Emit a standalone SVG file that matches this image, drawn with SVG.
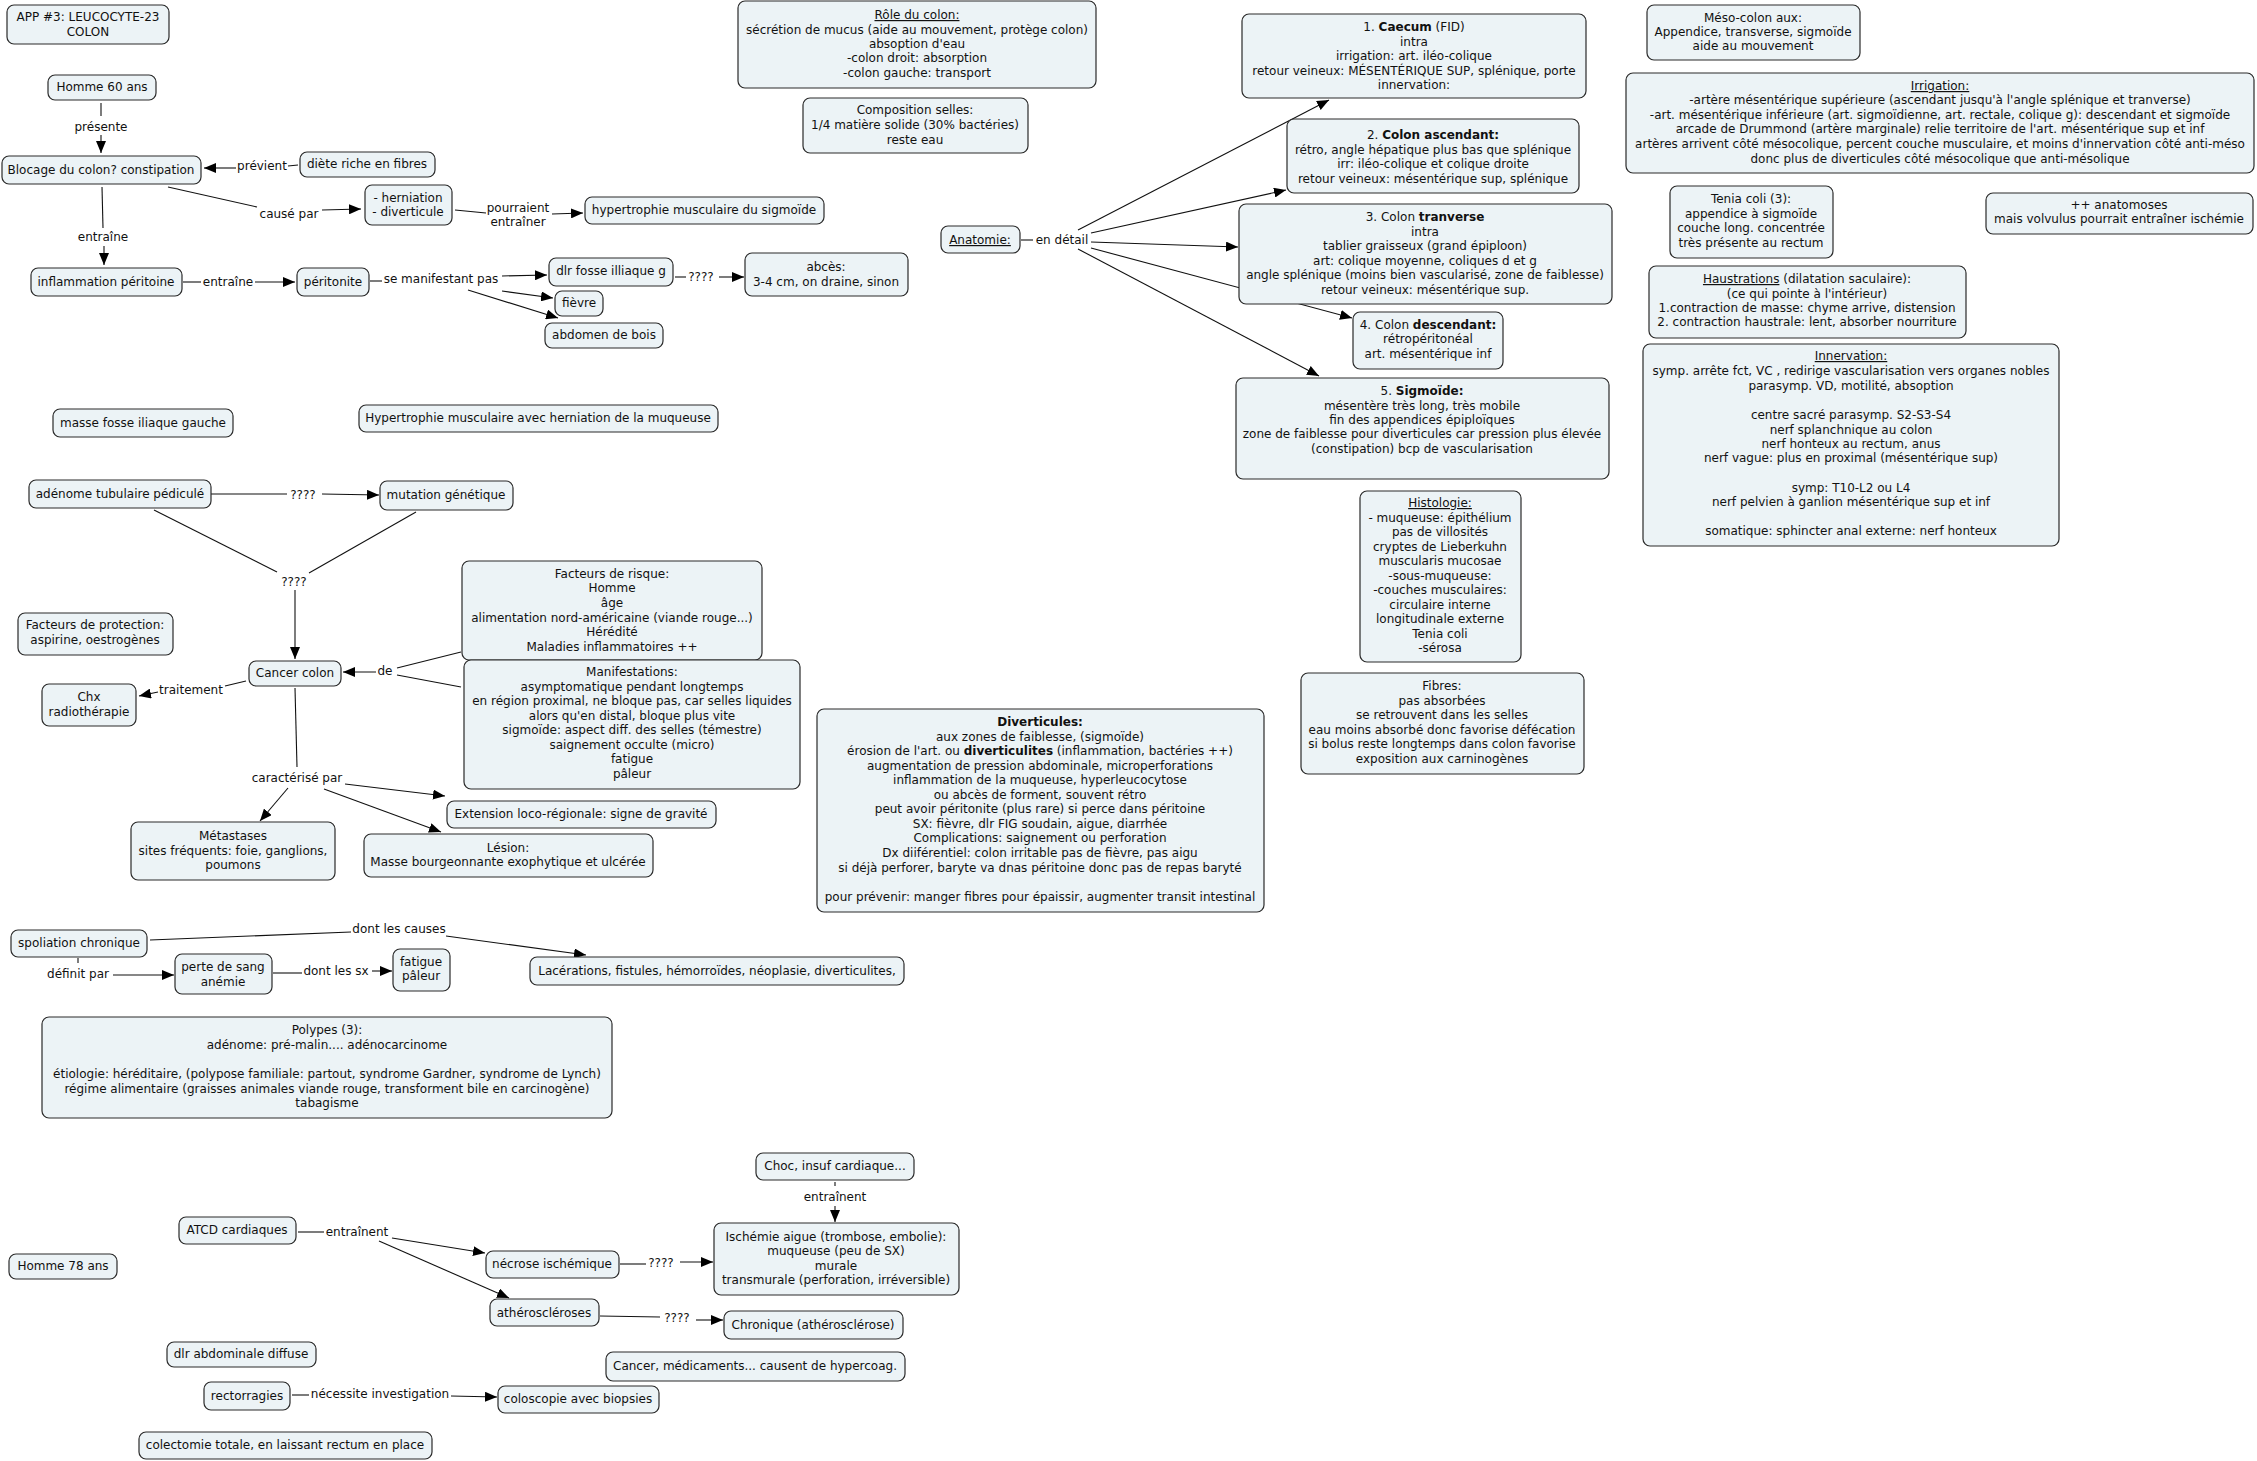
<svg xmlns="http://www.w3.org/2000/svg" width="2257" height="1461" viewBox="0 0 2257 1461">
<style>
text{font-family:"DejaVu Sans",Verdana,sans-serif;font-size:12px;fill:#111;text-anchor:middle}
.n rect{fill:#ECF3F6;stroke:#2a2a2a;stroke-width:1.2}
.c path{fill:none;stroke:#111;stroke-width:1.1}
.a{marker-end:url(#ah)}
.b{font-weight:bold}
.u{text-decoration:underline}
</style>
<defs>
<marker id="ah" viewBox="0 0 12 10" refX="12" refY="5" markerWidth="12" markerHeight="10" markerUnits="userSpaceOnUse" orient="auto"><path d="M0,0 L12,5 L0,10 z" fill="#000"/></marker>
</defs>
<rect width="2257" height="1461" fill="#fff"/>
<g id="connectors" class="c">
<path d="M101,103 L101,116"/><path class="a" d="M101,135 L101,153"/>
<path d="M298,165 L288,166"/><path class="a" d="M236,168 L204,168"/>
<path d="M168,187 L257,207"/><path class="a" d="M322,210 L361,209"/>
<path d="M455,210 L486,213"/><path class="a" d="M552,214 L583,213"/>
<path d="M102,187 L103,228"/><path class="a" d="M104,246 L104,265"/>
<path d="M183,282 L201,282"/><path class="a" d="M255,282 L295,282"/>
<path d="M370,281 L382,281"/><path class="a" d="M502,276 L547,275"/><path class="a" d="M502,291 L553,298"/><path class="a" d="M468,290 L558,318"/>
<path d="M675,277 L686,277"/><path class="a" d="M719,277 L744,277"/>
<path d="M211,494 L287,494"/><path class="a" d="M322,494 L379,495"/>
<path d="M154,510 L277,572"/><path d="M416,512 L309,573"/><path class="a" d="M295,590 L295,659"/>
<path d="M461,652 L397,668"/><path d="M461,687 L397,675"/><path class="a" d="M376,672 L343,672"/>
<path d="M246,681 L225,686"/><path class="a" d="M158,692 L139,696"/>
<path d="M295,688 L297,767"/><path class="a" d="M345,784 L445,796"/><path class="a" d="M324,789 L441,832"/><path class="a" d="M288,788 L260,821"/>
<path d="M1021,240 L1033,240"/>
<path class="a" d="M1078,230 L1329,100"/><path class="a" d="M1091,233 L1286,190"/><path class="a" d="M1091,242 L1238,247"/><path class="a" d="M1091,248 L1352,318"/><path class="a" d="M1078,249 L1319,376"/>
<path d="M150,940 L351,932"/><path class="a" d="M446,936 L586,955"/>
<path d="M78,958 L78,963"/><path class="a" d="M113,975 L174,975"/>
<path d="M273,973 L302,973"/><path class="a" d="M372,971 L392,971"/>
<path d="M298,1232 L324,1232"/><path class="a" d="M392,1238 L485,1253"/><path class="a" d="M379,1241 L509,1298"/>
<path d="M620,1264 L646,1264"/><path class="a" d="M680,1262 L713,1262"/>
<path d="M600,1316 L660,1317"/><path class="a" d="M696,1320 L723,1320"/>
<path d="M835,1182 L835,1186"/><path class="a" d="M835,1206 L835,1222"/>
<path d="M292,1395 L309,1395"/><path class="a" d="M451,1396 L497,1397"/>
</g>
<g id="labels">
<text x="101" y="131">présente</text>
<text x="262" y="170">prévient</text>
<text x="289" y="218">causé par</text>
<text x="518" y="212">pourraient</text><text x="518" y="226">entraîner</text>
<text x="103" y="241">entraîne</text>
<text x="228" y="286">entraîne</text>
<text x="441" y="283">se manifestant pas</text>
<text x="701" y="281">????</text>
<text x="303" y="499">????</text>
<text x="294" y="586">????</text>
<text x="385" y="675">de</text>
<text x="191" y="694">traitement</text>
<text x="297" y="782">caractérisé par</text>
<text x="1062" y="244">en détail</text>
<text x="399" y="933">dont les causes</text>
<text x="78" y="978">définit par</text>
<text x="336" y="975">dont les sx</text>
<text x="357" y="1236">entraînent</text>
<text x="661" y="1267">????</text>
<text x="677" y="1322">????</text>
<text x="835" y="1201">entraînent</text>
<text x="380" y="1398">nécessite investigation</text>
</g>
<g id="n-app" class="n"><rect x="7" y="5" width="162" height="39" rx="7"/><text><tspan x="88" y="21">APP #3: LEUCOCYTE-23</tspan><tspan x="88" y="36">COLON</tspan></text></g>
<g id="n-homme60" class="n"><rect x="48" y="75" width="108" height="25" rx="7"/><text x="102" y="91">Homme 60 ans</text></g>
<g id="n-blocage" class="n"><rect x="2" y="156" width="199" height="28" rx="7"/><text x="101" y="174">Blocage du colon? constipation</text></g>
<g id="n-diete" class="n"><rect x="300" y="152" width="135" height="25" rx="7"/><text x="367" y="168">diète riche en fibres</text></g>
<g id="n-herniation" class="n"><rect x="365" y="185" width="87" height="40" rx="7"/><text><tspan x="408" y="202">- herniation</tspan><tspan x="408" y="216">- diverticule</tspan></text></g>
<g id="n-hypertrophie" class="n"><rect x="585" y="197" width="239" height="27" rx="7"/><text x="704" y="214">hypertrophie musculaire du sigmoïde</text></g>
<g id="n-inflammation" class="n"><rect x="31" y="268" width="151" height="28" rx="7"/><text x="106" y="286">inflammation péritoine</text></g>
<g id="n-peritonite" class="n"><rect x="297" y="268" width="72" height="28" rx="7"/><text x="333" y="286">péritonite</text></g>
<g id="n-dlr" class="n"><rect x="549" y="258" width="124" height="28" rx="7"/><text x="611" y="275">dlr fosse illiaque g</text></g>
<g id="n-abces" class="n"><rect x="745" y="253" width="163" height="43" rx="7"/><text><tspan x="826" y="271">abcès:</tspan><tspan x="826" y="286">3-4 cm, on draine, sinon</tspan></text></g>
<g id="n-fievre" class="n"><rect x="555" y="291" width="48" height="25" rx="7"/><text x="579" y="307">fièvre</text></g>
<g id="n-abdomen" class="n"><rect x="545" y="323" width="118" height="25" rx="7"/><text x="604" y="339">abdomen de bois</text></g>
<g id="n-masse" class="n"><rect x="53" y="409" width="180" height="28" rx="7"/><text x="143" y="427">masse fosse iliaque gauche</text></g>
<g id="n-hypertrophie2" class="n"><rect x="359" y="405" width="359" height="27" rx="7"/><text x="538" y="422">Hypertrophie musculaire avec herniation de la muqueuse</text></g>
<g id="n-adenome" class="n"><rect x="29" y="480" width="182" height="28" rx="7"/><text x="120" y="498">adénome tubulaire pédiculé</text></g>
<g id="n-mutation" class="n"><rect x="380" y="481" width="133" height="29" rx="7"/><text x="446" y="499">mutation génétique</text></g>
<g id="n-protection" class="n"><rect x="18" y="613" width="155" height="42" rx="7"/><text><tspan x="95" y="629">Facteurs de protection:</tspan><tspan x="95" y="644">aspirine, oestrogènes</tspan></text></g>
<g id="n-cancer" class="n"><rect x="249" y="661" width="92" height="25" rx="7"/><text x="295" y="677">Cancer colon</text></g>
<g id="n-risque" class="n"><rect x="462" y="561" width="300" height="99" rx="7"/><text><tspan x="612" y="578">Facteurs de risque:</tspan><tspan x="612" y="592">Homme</tspan><tspan x="612" y="607">âge</tspan><tspan x="612" y="622">alimentation nord-américaine (viande rouge...)</tspan><tspan x="612" y="636">Hérédité</tspan><tspan x="612" y="651">Maladies inflammatoires ++</tspan></text></g>
<g id="n-manifestations" class="n"><rect x="464" y="660" width="336" height="129" rx="7"/><text><tspan x="632" y="676">Manifestations:</tspan><tspan x="632" y="691">asymptomatique pendant longtemps</tspan><tspan x="632" y="705">en région proximal, ne bloque pas, car selles liquides</tspan><tspan x="632" y="720">alors qu'en distal, bloque plus vite</tspan><tspan x="632" y="734">sigmoïde: aspect diff. des selles (témestre)</tspan><tspan x="632" y="749">saignement occulte (micro)</tspan><tspan x="632" y="763">fatigue</tspan><tspan x="632" y="778">pâleur</tspan></text></g>
<g id="n-chx" class="n"><rect x="42" y="684" width="94" height="42" rx="7"/><text><tspan x="89" y="701">Chx</tspan><tspan x="89" y="716">radiothérapie</tspan></text></g>
<g id="n-metastases" class="n"><rect x="131" y="822" width="204" height="58" rx="7"/><text><tspan x="233" y="840">Métastases</tspan><tspan x="233" y="855">sites fréquents: foie, ganglions,</tspan><tspan x="233" y="869">poumons</tspan></text></g>
<g id="n-extension" class="n"><rect x="447" y="801" width="269" height="27" rx="7"/><text x="581" y="818">Extension loco-régionale: signe de gravité</text></g>
<g id="n-lesion" class="n"><rect x="364" y="834" width="289" height="43" rx="7"/><text><tspan x="508" y="852">Lésion:</tspan><tspan x="508" y="866">Masse bourgeonnante exophytique et ulcérée</tspan></text></g>
<g id="n-diverticules" class="n"><rect x="817" y="709" width="447" height="203" rx="7"/><text><tspan x="1040" y="726" class="b">Diverticules:</tspan><tspan x="1040" y="741">aux zones de faiblesse,  (sigmoïde)</tspan><tspan x="1040" y="755">érosion de l'art. ou <tspan class="b">diverticulites</tspan> (inflammation, bactéries ++)</tspan><tspan x="1040" y="770">augmentation de pression abdominale, microperforations</tspan><tspan x="1040" y="784">inflammation de la muqueuse, hyperleucocytose</tspan><tspan x="1040" y="799">ou abcès de forment, souvent rétro</tspan><tspan x="1040" y="813">peut avoir péritonite (plus rare) si perce dans péritoine</tspan><tspan x="1040" y="828">SX: fièvre, dlr FIG soudain, aigue, diarrhée</tspan><tspan x="1040" y="842">Complications: saignement ou perforation</tspan><tspan x="1040" y="857">Dx diiférentiel: colon irritable pas de fièvre, pas aigu</tspan><tspan x="1040" y="872">si déjà perforer, baryte va dnas péritoine donc pas de repas baryté</tspan><tspan x="1040" y="901">pour prévenir: manger fibres pour épaissir, augmenter transit intestinal</tspan></text></g>
<g id="n-role" class="n"><rect x="738" y="1" width="358" height="87" rx="7"/><text><tspan x="917" y="19" class="u">Rôle du colon:</tspan><tspan x="917" y="34">sécrétion de mucus (aide au mouvement, protège colon)</tspan><tspan x="917" y="48">absoption d'eau</tspan><tspan x="917" y="62">-colon droit: absorption</tspan><tspan x="917" y="77">-colon gauche: transport</tspan></text></g>
<g id="n-composition" class="n"><rect x="803" y="98" width="225" height="55" rx="7"/><text><tspan x="915" y="114">Composition selles:</tspan><tspan x="915" y="129">1/4 matière solide (30% bactéries)</tspan><tspan x="915" y="144">reste eau</tspan></text></g>
<g id="n-anatomie" class="n"><rect x="941" y="226" width="79" height="27" rx="7"/><text x="980" y="244" class="u">Anatomie:</text></g>
<g id="n-caecum" class="n"><rect x="1242" y="14" width="344" height="84" rx="7"/><text><tspan x="1414" y="31">1. <tspan class="b">Caecum</tspan> (FID)</tspan><tspan x="1414" y="46">intra</tspan><tspan x="1414" y="60">irrigation: art. iléo-colique</tspan><tspan x="1414" y="75">retour veineux: MÉSENTÉRIQUE SUP, splénique, porte</tspan><tspan x="1414" y="89">innervation:</tspan></text></g>
<g id="n-ascendant" class="n"><rect x="1287" y="119" width="292" height="74" rx="7"/><text><tspan x="1433" y="139">2. <tspan class="b">Colon ascendant:</tspan></tspan><tspan x="1433" y="154">rétro, angle hépatique plus bas que splénique</tspan><tspan x="1433" y="168">irr: iléo-colique et colique droite</tspan><tspan x="1433" y="183">retour veineux: mésentérique sup, splénique</tspan></text></g>
<g id="n-transverse" class="n"><rect x="1239" y="204" width="373" height="100" rx="7"/><text><tspan x="1425" y="221">3. Colon <tspan class="b">tranverse</tspan></tspan><tspan x="1425" y="236">intra</tspan><tspan x="1425" y="250">tablier graisseux (grand épiploon)</tspan><tspan x="1425" y="265">art: colique moyenne, coliques d et g</tspan><tspan x="1425" y="279">angle splénique (moins bien vascularisé, zone de faiblesse)</tspan><tspan x="1425" y="294">retour veineux: mésentérique sup.</tspan></text></g>
<g id="n-descendant" class="n"><rect x="1353" y="312" width="150" height="57" rx="7"/><text><tspan x="1428" y="329">4. Colon <tspan class="b">descendant:</tspan></tspan><tspan x="1428" y="343">rétropéritonéal</tspan><tspan x="1428" y="358">art. mésentérique inf</tspan></text></g>
<g id="n-sigmoide" class="n"><rect x="1236" y="378" width="373" height="101" rx="7"/><text><tspan x="1422" y="395">5. <tspan class="b">Sigmoïde:</tspan></tspan><tspan x="1422" y="410">mésentère très long, très mobile</tspan><tspan x="1422" y="424">fin des appendices épiploïques</tspan><tspan x="1422" y="438">zone de faiblesse pour diverticules car pression plus élevée</tspan><tspan x="1422" y="453">(constipation) bcp de vascularisation</tspan></text></g>
<g id="n-histologie" class="n"><rect x="1360" y="491" width="161" height="171" rx="7"/><text><tspan x="1440" y="507" class="u">Histologie:</tspan><tspan x="1440" y="522">- muqueuse: épithélium</tspan><tspan x="1440" y="536">pas de villosités</tspan><tspan x="1440" y="551">cryptes de Lieberkuhn</tspan><tspan x="1440" y="565">muscularis mucosae</tspan><tspan x="1440" y="580">-sous-muqueuse:</tspan><tspan x="1440" y="594">-couches musculaires:</tspan><tspan x="1440" y="609">circulaire interne</tspan><tspan x="1440" y="623">longitudinale externe</tspan><tspan x="1440" y="638">Tenia coli</tspan><tspan x="1440" y="652">-sérosa</tspan></text></g>
<g id="n-fibres" class="n"><rect x="1301" y="673" width="283" height="101" rx="7"/><text><tspan x="1442" y="690">Fibres:</tspan><tspan x="1442" y="705">pas absorbées</tspan><tspan x="1442" y="719">se retrouvent dans les selles</tspan><tspan x="1442" y="734">eau moins absorbé donc favorise défécation</tspan><tspan x="1442" y="748">si bolus reste longtemps dans colon favorise</tspan><tspan x="1442" y="763">exposition aux carninogènes</tspan></text></g>
<g id="n-meso" class="n"><rect x="1647" y="5" width="213" height="55" rx="7"/><text><tspan x="1753" y="22">Méso-colon aux:</tspan><tspan x="1753" y="36">Appendice, transverse, sigmoïde</tspan><tspan x="1753" y="50">aide au mouvement</tspan></text></g>
<g id="n-irrigation" class="n"><rect x="1626" y="73" width="628" height="100" rx="7"/><text><tspan x="1940" y="90" class="u">Irrigation:</tspan><tspan x="1940" y="104">-artère mésentérique supérieure (ascendant jusqu'à l'angle splénique et tranverse)</tspan><tspan x="1940" y="119">-art. mésentérique inférieure (art. sigmoïdienne, art. rectale, colique g): descendant et sigmoïde</tspan><tspan x="1940" y="133">arcade de Drummond (artère marginale) relie territoire de l'art. mésentérique sup et inf</tspan><tspan x="1940" y="148">artères arrivent côté mésocolique, percent couche musculaire, et moins d'innervation côté anti-méso</tspan><tspan x="1940" y="163">donc plus de diverticules côté mésocolique que anti-mésolique</tspan></text></g>
<g id="n-tenia" class="n"><rect x="1670" y="186" width="163" height="72" rx="7"/><text><tspan x="1751" y="203">Tenia coli (3):</tspan><tspan x="1751" y="218">appendice à sigmoïde</tspan><tspan x="1751" y="232">couche long. concentrée</tspan><tspan x="1751" y="247">très présente au rectum</tspan></text></g>
<g id="n-anastomoses" class="n"><rect x="1986" y="193" width="267" height="41" rx="7"/><text><tspan x="2119" y="209">++ anatomoses</tspan><tspan x="2119" y="223">mais volvulus pourrait entraîner ischémie</tspan></text></g>
<g id="n-haustrations" class="n"><rect x="1649" y="266" width="317" height="72" rx="7"/><text><tspan x="1807" y="283"><tspan class="u">Haustrations</tspan> (dilatation saculaire):</tspan><tspan x="1807" y="298">(ce qui pointe à l'intérieur)</tspan><tspan x="1807" y="312">1.contraction de masse: chyme arrive, distension</tspan><tspan x="1807" y="326">2. contraction haustrale: lent, absorber nourriture</tspan></text></g>
<g id="n-innervation" class="n"><rect x="1643" y="344" width="416" height="202" rx="7"/><text><tspan x="1851" y="360" class="u">Innervation:</tspan><tspan x="1851" y="375">symp. arrête fct, VC , redirige vascularisation vers organes nobles</tspan><tspan x="1851" y="390">parasymp. VD, motilité, absoption</tspan><tspan x="1851" y="419">centre sacré parasymp. S2-S3-S4</tspan><tspan x="1851" y="434">nerf splanchnique au colon</tspan><tspan x="1851" y="448">nerf honteux au rectum, anus</tspan><tspan x="1851" y="462">nerf vague: plus en proximal (mésentérique sup)</tspan><tspan x="1851" y="492">symp: T10-L2 ou L4</tspan><tspan x="1851" y="506">nerf pelvien à ganlion mésentérique sup et inf</tspan><tspan x="1851" y="535">somatique: sphincter anal externe: nerf honteux</tspan></text></g>
<g id="n-spoliation" class="n"><rect x="11" y="930" width="136" height="27" rx="7"/><text x="79" y="947">spoliation chronique</text></g>
<g id="n-lacerations" class="n"><rect x="530" y="957" width="374" height="28" rx="7"/><text x="717" y="975">Lacérations, fistules, hémorroïdes, néoplasie, diverticulites,</text></g>
<g id="n-perte" class="n"><rect x="175" y="954" width="97" height="40" rx="7"/><text><tspan x="223" y="971">perte de sang</tspan><tspan x="223" y="986">anémie</tspan></text></g>
<g id="n-fatigue" class="n"><rect x="393" y="949" width="57" height="42" rx="7"/><text><tspan x="421" y="966">fatigue</tspan><tspan x="421" y="980">pâleur</tspan></text></g>
<g id="n-polypes" class="n"><rect x="42" y="1017" width="570" height="101" rx="7"/><text><tspan x="327" y="1034">Polypes (3):</tspan><tspan x="327" y="1049">adénome: pré-malin.... adénocarcinome</tspan><tspan x="327" y="1078">étiologie: héréditaire, (polypose familiale: partout, syndrome Gardner, syndrome de Lynch)</tspan><tspan x="327" y="1093">régime alimentaire (graisses animales viande rouge, transforment bile en carcinogène)</tspan><tspan x="327" y="1107">tabagisme</tspan></text></g>
<g id="n-choc" class="n"><rect x="756" y="1153" width="158" height="27" rx="7"/><text x="835" y="1170">Choc, insuf cardiaque...</text></g>
<g id="n-ischemie" class="n"><rect x="714" y="1223" width="245" height="72" rx="7"/><text><tspan x="836" y="1241">Ischémie aigue (trombose, embolie):</tspan><tspan x="836" y="1255">muqueuse (peu de SX)</tspan><tspan x="836" y="1270">murale</tspan><tspan x="836" y="1284">transmurale (perforation, irréversible)</tspan></text></g>
<g id="n-atcd" class="n"><rect x="179" y="1217" width="117" height="27" rx="7"/><text x="237" y="1234">ATCD cardiaques</text></g>
<g id="n-homme78" class="n"><rect x="9" y="1254" width="108" height="25" rx="7"/><text x="63" y="1270">Homme 78 ans</text></g>
<g id="n-necrose" class="n"><rect x="486" y="1251" width="133" height="27" rx="7"/><text x="552" y="1268">nécrose ischémique</text></g>
<g id="n-atherosclerose" class="n"><rect x="490" y="1299" width="109" height="27" rx="7"/><text x="544" y="1317">athéroscléroses</text></g>
<g id="n-chronique" class="n"><rect x="724" y="1311" width="179" height="28" rx="7"/><text x="813" y="1329">Chronique (athérosclérose)</text></g>
<g id="n-dlrabdo" class="n"><rect x="167" y="1342" width="149" height="25" rx="7"/><text x="241" y="1358">dlr abdominale diffuse</text></g>
<g id="n-cancermed" class="n"><rect x="606" y="1352" width="299" height="29" rx="7"/><text x="755" y="1370">Cancer, médicaments... causent de hypercoag.</text></g>
<g id="n-rectorragies" class="n"><rect x="204" y="1382" width="86" height="28" rx="7"/><text x="247" y="1400">rectorragies</text></g>
<g id="n-coloscopie" class="n"><rect x="498" y="1386" width="161" height="27" rx="7"/><text x="578" y="1403">coloscopie avec biopsies</text></g>
<g id="n-colectomie" class="n"><rect x="139" y="1432" width="293" height="27" rx="7"/><text x="285" y="1449">colectomie totale, en laissant rectum en place</text></g>
</svg>
